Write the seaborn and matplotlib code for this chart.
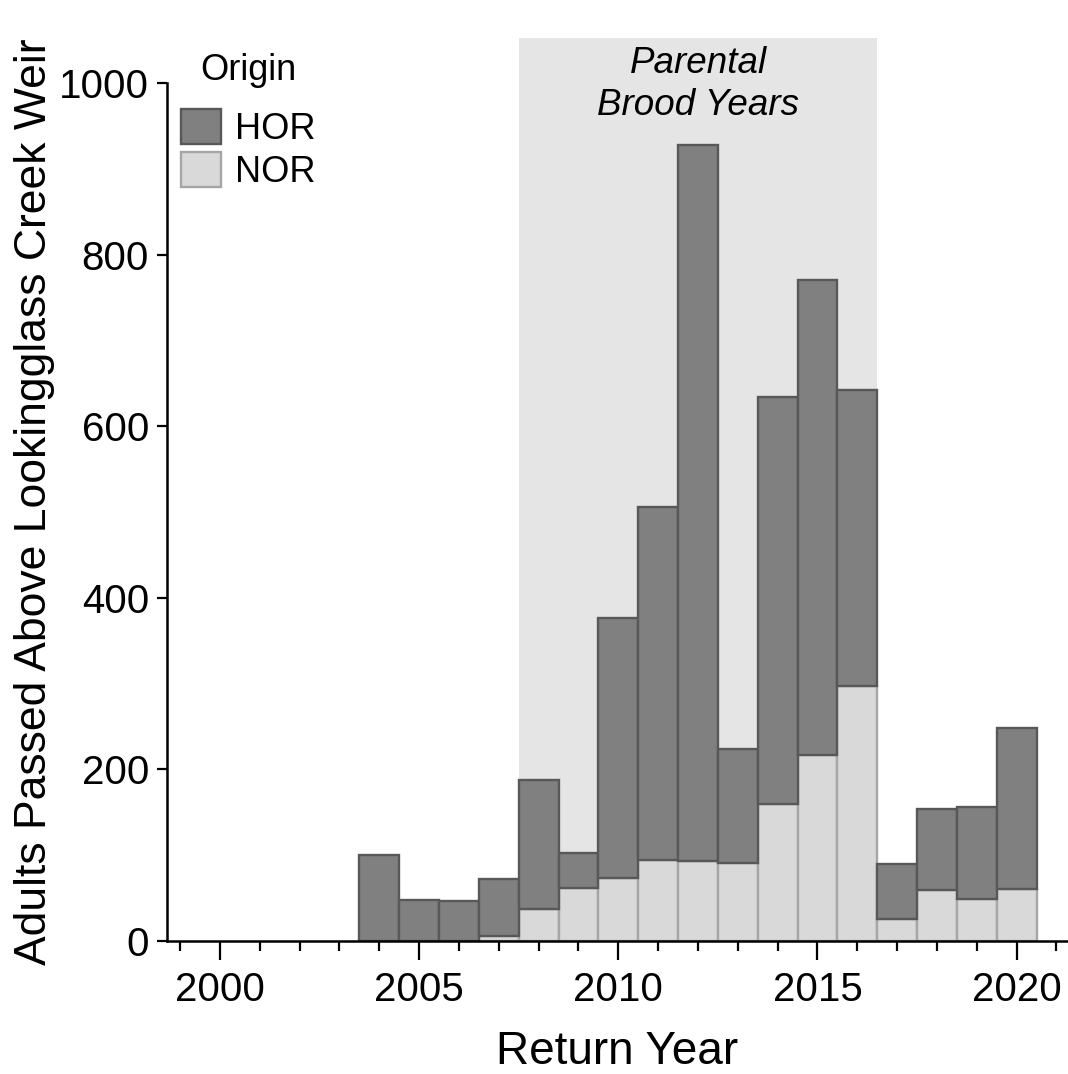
import numpy as np
import pandas as pd
import matplotlib
matplotlib.use("Agg")
import matplotlib.pyplot as plt
from matplotlib.patches import Patch
from matplotlib.ticker import MultipleLocator
import seaborn as sns

# ---- data ----
years = [2004, 2005, 2006, 2007, 2008, 2009, 2010, 2011, 2012,
         2013, 2014, 2015, 2016, 2017, 2018, 2019, 2020]
nor = [0, 0, 0, 6, 37, 62, 73, 94, 93, 91, 160, 217, 297, 26, 59, 49, 61]
hor = [100, 48, 47, 66, 151, 41, 303, 412, 835, 133, 474, 553, 345, 64, 95, 107, 187]
x_ticks = [2000, 2005, 2010, 2015, 2020]
y_ticks = [0, 200, 400, 600, 800, 1000]
brood_span = (2007.5, 2016.5)

df = pd.DataFrame({"Year": years, "HOR": hor, "NOR": nor})

sns.set_style("ticks")
plt.rcParams["font.family"] = ["Liberation Sans", "DejaVu Sans"]
plt.rcParams["text.color"] = "black"
plt.rcParams["axes.labelcolor"] = "black"
plt.rcParams["xtick.color"] = "black"
plt.rcParams["ytick.color"] = "black"

HOR_FILL, HOR_EDGE = "#808080", "#585858"
NOR_FILL, NOR_EDGE = "#d9d9d9", "#a6a6a6"
SHADE = "#e5e5e5"

fig = plt.figure(figsize=(10.68, 10.74), dpi=100)
ax = fig.add_axes([167 / 1068, 1 - 941 / 1074, 1 - 167 / 1068, (941 - 83) / 1074])

# shaded brood-year region
ax.axvspan(brood_span[0], brood_span[1], ymin=0, ymax=1.0524, color=SHADE,
           zorder=0, clip_on=False, lw=0)

# NOR bars (bottom)
sns.barplot(data=df, x="Year", y="NOR", native_scale=True, width=1.0,
            color=NOR_FILL, saturation=1, edgecolor=NOR_EDGE, linewidth=1.7,
            errorbar=None, ax=ax, zorder=2)
# HOR bars stacked on top of NOR
sns.barplot(data=df, x="Year", y="HOR", native_scale=True, width=1.0,
            color=HOR_FILL, saturation=1, edgecolor=HOR_EDGE, linewidth=1.7,
            errorbar=None, ax=ax, zorder=3, bottom=df["NOR"].values)

ax.set_xlim(1998.67, 2021.29)
ax.set_ylim(0, 1000)
ax.set_xticks(x_ticks)
ax.set_xticklabels([str(t) for t in x_ticks])
ax.xaxis.set_minor_locator(MultipleLocator(1))
ax.set_yticks(y_ticks)
ax.set_yticklabels([str(t) for t in y_ticks])

ax.tick_params(axis="x", which="major", length=13.5, width=1.6, labelsize=29, pad=8)
ax.tick_params(axis="x", which="minor", length=7, width=1.6)
ax.tick_params(axis="y", which="major", length=7, width=1.6, labelsize=29, pad=6)

for s in ["top", "right"]:
    ax.spines[s].set_visible(False)
for s in ["left", "bottom"]:
    ax.spines[s].set_linewidth(1.8)
    ax.spines[s].set_color("black")
    ax.spines[s].set_zorder(5)
ax.set_facecolor("none")

ax.set_xlabel("Return Year", fontsize=33, labelpad=15)
ax.set_ylabel("Adults Passed Above Lookingglass Creek Weir", fontsize=32, labelpad=3)
ax.yaxis.label.set_y(0.5117)

ax.text(sum(brood_span) / 2, 998, "Parental\nBrood Years", ha="center", va="center",
        fontsize=26.5, style="italic", clip_on=False, zorder=4, linespacing=1.25)

handles = [Patch(facecolor=HOR_FILL, edgecolor=HOR_EDGE, linewidth=1.7, label="HOR"),
           Patch(facecolor=NOR_FILL, edgecolor=NOR_EDGE, linewidth=1.7, label="NOR")]
leg = ax.legend(handles=handles, loc="upper left",
                bbox_to_anchor=(181 / 1068, 1 - 109 / 1074), bbox_transform=fig.transFigure,
                frameon=False, fontsize=26, borderpad=0,
                borderaxespad=0, handlelength=1.1, handleheight=1.1,
                handletextpad=0.4, labelspacing=0.15)
fig.text(248 / 1068, 1 - 70 / 1074, "Origin", ha="center", va="center", fontsize=26)

fig.savefig("out.png", dpi=100)
